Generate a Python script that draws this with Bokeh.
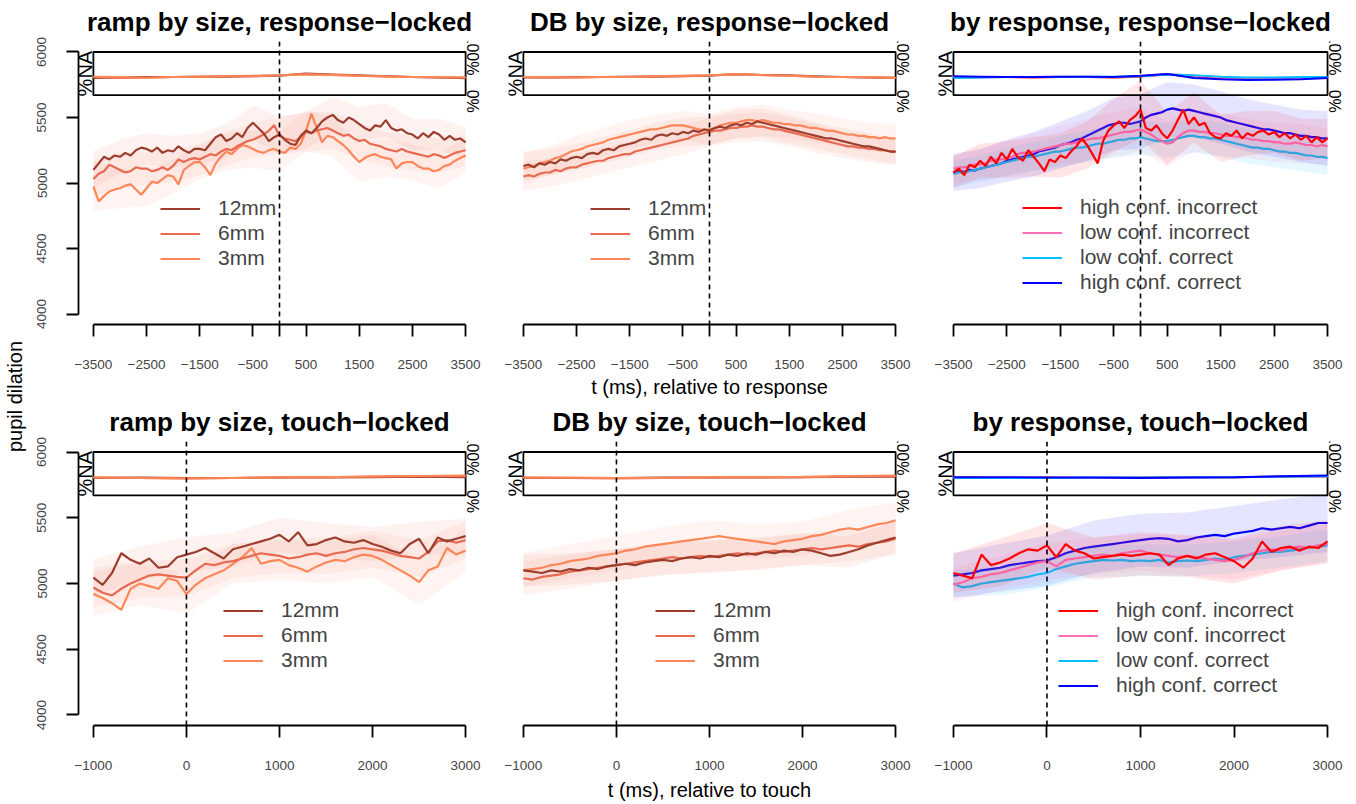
import math
from bokeh.plotting import figure
from bokeh.models import Range1d, FixedTicker, Span, Label, Legend, LegendItem
from bokeh.layouts import row, column
from bokeh.embed import file_html
from bokeh.resources import INLINE

FONT = "Liberation Sans"

# ---------------- time grids & ticks ----------------
t_resp = list(range(-3500, 3501, 100))
t_touch = list(range(-1000, 3001, 100))
t_resp_coarse = t_resp[::5]
t_touch_coarse = t_touch[::5]

resp_ticks = [-3500, -2500, -1500, -500, 0, 500, 1500, 2500, 3500]
resp_tick_labels = ["−3500", "−2500", "−1500", "−500", "", "500", "1500", "2500", "3500"]
touch_ticks = [-1000, 0, 1000, 2000, 3000]
touch_tick_labels = ["−1000", "0", "1000", "2000", "3000"]
y_ticks = [4000, 4500, 5000, 5500, 6000]
y_tick_labels = ["4000", "4500", "5000", "5500", "6000"]

size_names = ["12mm", "6mm", "3mm"]
size_colors = ["#9C3E2E", "#E8694F", "#FF8756"]
size_band_colors = ["#F08070", "#F88878", "#FF9080"]
resp_names = ["high conf. incorrect", "low conf. incorrect", "low conf. correct", "high conf. correct"]
resp_colors = ["#FF0000", "#FF6EB4", "#00BFFF", "#0000FF"]

# ---------------- ramp by size, response-locked ----------------
ramp_resp_12mm = [5100, 5150, 5200, 5180, 5210, 5200, 5230, 5210, 5250, 5270,
                  5260, 5240, 5270, 5230, 5250, 5240, 5280, 5250, 5230, 5260,
                  5260, 5250, 5300, 5350, 5370, 5320, 5340, 5380, 5350, 5420,
                  5460, 5420, 5380, 5320, 5350, 5370, 5330, 5300, 5290, 5360,
                  5400, 5380, 5420, 5470, 5500, 5520, 5480, 5460, 5500, 5480,
                  5450, 5420, 5400, 5440, 5430, 5480, 5420, 5400, 5410, 5380,
                  5370, 5340, 5380, 5350, 5390, 5370, 5330, 5360, 5330, 5340,
                  5310]
ramp_resp_6mm = [5030, 5070, 5090, 5140, 5120, 5100, 5080, 5090, 5120, 5110,
                 5110, 5090, 5100, 5120, 5100, 5130, 5180, 5160, 5180, 5190,
                 5180, 5200, 5220, 5210, 5240, 5260, 5250, 5280, 5300, 5320,
                 5330, 5350, 5370, 5400, 5440, 5360, 5340, 5330, 5320, 5350,
                 5390, 5380, 5400, 5410, 5420, 5400, 5380, 5360, 5370, 5340,
                 5320, 5330, 5300, 5290, 5280, 5260, 5250, 5240, 5260, 5240,
                 5230, 5220, 5210, 5200, 5220, 5210, 5190, 5210, 5230, 5240,
                 5250]
ramp_resp_3mm = [4975, 4860, 4900, 4935, 4950, 4960, 4980, 4990, 4950, 4910,
                 4960, 5010, 5000, 5030, 5060, 5050, 4990, 5100, 5130, 5160,
                 5160, 5120, 5060, 5150, 5200, 5240, 5220, 5260, 5290, 5280,
                 5260, 5240, 5230, 5250, 5260, 5240, 5230, 5270, 5260, 5300,
                 5400, 5530, 5420, 5310, 5360, 5350, 5320, 5290, 5250, 5200,
                 5160, 5190, 5210, 5220, 5200, 5190, 5180, 5110, 5150, 5160,
                 5160, 5130, 5110, 5110, 5090, 5100, 5130, 5140, 5170, 5190,
                 5210]
ramp_resp_12mm_hw = [140, 130, 120, 120, 120, 130, 130, 140, 140, 140, 130, 130, 120, 120, 120]
ramp_resp_6mm_hw = [140, 130, 130, 120, 120, 130, 130, 140, 150, 140, 140, 130, 130, 130, 120]
ramp_resp_3mm_hw = [190, 150, 140, 130, 130, 140, 140, 150, 160, 150, 150, 140, 140, 140, 130]
ramp_resp_12mm_na = [0.40, 0.41, 0.42, 0.42, 0.43, 0.43, 0.44, 0.45, 0.50, 0.48, 0.46, 0.44, 0.42, 0.41, 0.39]
ramp_resp_6mm_na = [0.42, 0.40, 0.41, 0.42, 0.43, 0.44, 0.45, 0.46, 0.49, 0.47, 0.45, 0.44, 0.42, 0.41, 0.41]
ramp_resp_3mm_na = [0.43, 0.42, 0.40, 0.42, 0.43, 0.44, 0.44, 0.46, 0.48, 0.47, 0.45, 0.43, 0.42, 0.42, 0.41]

# ---------------- DB by size, response-locked ----------------
db_resp_12mm = [5130, 5140, 5120, 5150, 5140, 5160, 5150, 5180, 5170, 5190,
                5200, 5190, 5220, 5230, 5220, 5250, 5260, 5250, 5280, 5290,
                5300, 5310, 5330, 5340, 5330, 5360, 5370, 5360, 5380, 5370,
                5390, 5380, 5400, 5390, 5410, 5400, 5420, 5430, 5420, 5440,
                5450, 5440, 5460, 5450, 5470, 5460, 5450, 5440, 5430, 5420,
                5410, 5400, 5390, 5380, 5370, 5360, 5350, 5340, 5340, 5330,
                5320, 5310, 5300, 5290, 5280, 5280, 5270, 5260, 5250, 5240,
                5240]
db_resp_6mm = [5050, 5060, 5050, 5070, 5080, 5080, 5100, 5090, 5110, 5120,
               5120, 5140, 5150, 5160, 5170, 5170, 5190, 5200, 5210, 5220,
               5220, 5240, 5250, 5260, 5270, 5280, 5290, 5300, 5310, 5320,
               5330, 5340, 5360, 5370, 5380, 5390, 5400, 5400, 5410, 5420,
               5420, 5430, 5430, 5440, 5430, 5430, 5420, 5410, 5410, 5400,
               5390, 5380, 5370, 5360, 5350, 5340, 5330, 5320, 5310, 5300,
               5290, 5280, 5280, 5270, 5270, 5260, 5260, 5250, 5250, 5240,
               5240]
db_resp_3mm = [5110, 5120, 5130, 5150, 5160, 5170, 5190, 5200, 5220, 5240,
               5250, 5260, 5280, 5290, 5300, 5310, 5330, 5340, 5350, 5360,
               5370, 5380, 5390, 5400, 5410, 5410, 5420, 5430, 5440, 5440,
               5440, 5430, 5420, 5410, 5400, 5410, 5420, 5440, 5450, 5460,
               5460, 5470, 5480, 5480, 5470, 5480, 5470, 5460, 5460, 5450,
               5450, 5440, 5440, 5430, 5420, 5420, 5410, 5400, 5400, 5390,
               5380, 5370, 5370, 5360, 5360, 5350, 5350, 5340, 5350, 5340,
               5340]
db_resp_12mm_hw = [110, 100, 100, 100, 100, 100, 110, 110, 110, 110, 110, 100, 100, 100, 100]
db_resp_6mm_hw = [110, 110, 100, 100, 100, 110, 110, 110, 110, 110, 110, 110, 100, 100, 100]
db_resp_3mm_hw = [120, 110, 110, 110, 110, 110, 110, 120, 120, 120, 110, 110, 110, 110, 110]
db_resp_12mm_na = [0.41, 0.41, 0.42, 0.42, 0.43, 0.43, 0.44, 0.45, 0.49, 0.47, 0.46, 0.44, 0.42, 0.41, 0.40]
db_resp_6mm_na = [0.42, 0.41, 0.41, 0.42, 0.43, 0.44, 0.45, 0.46, 0.48, 0.47, 0.45, 0.43, 0.42, 0.41, 0.41]
db_resp_3mm_na = [0.42, 0.42, 0.41, 0.42, 0.42, 0.44, 0.44, 0.46, 0.49, 0.46, 0.45, 0.43, 0.42, 0.42, 0.40]

# ---------------- by response, response-locked ----------------
resp_hi = [5080, 5110, 5060, 5140, 5120, 5170, 5130, 5200, 5150, 5230,
           5180, 5260, 5200, 5170, 5250, 5200, 5150, 5090, 5180, 5160,
           5210, 5190, 5240, 5280, 5340, 5290, 5220, 5150, 5320, 5400,
           5440, 5470, 5420, 5480, 5510, 5560, 5420, 5400, 5440, 5380,
           5340, 5400, 5480, 5560, 5450, 5500, 5440, 5460, 5380, 5350,
           5340, 5380, 5360, 5400, 5340, 5380, 5360, 5390, 5400, 5370,
           5390, 5350, 5380, 5340, 5370, 5330, 5360, 5310, 5350, 5310,
           5340]
resp_li = [5110, 5120, 5120, 5130, 5140, 5140, 5150, 5170, 5180, 5180,
           5190, 5200, 5220, 5230, 5230, 5240, 5250, 5260, 5270, 5280,
           5290, 5300, 5300, 5310, 5320, 5330, 5340, 5340, 5350, 5360,
           5370, 5380, 5390, 5390, 5400, 5410, 5390, 5370, 5340, 5320,
           5300, 5310, 5350, 5380, 5400, 5400, 5390, 5390, 5380, 5380,
           5370, 5360, 5360, 5350, 5350, 5340, 5330, 5330, 5320, 5320,
           5310, 5310, 5300, 5300, 5310, 5300, 5290, 5290, 5280, 5290,
           5280]
resp_lc = [5070, 5080, 5080, 5090, 5100, 5110, 5120, 5130, 5140, 5150,
           5160, 5170, 5180, 5190, 5200, 5200, 5210, 5220, 5230, 5240,
           5240, 5250, 5260, 5270, 5270, 5280, 5290, 5300, 5300, 5310,
           5320, 5330, 5330, 5340, 5340, 5350, 5340, 5330, 5320, 5320,
           5320, 5330, 5340, 5350, 5360, 5360, 5350, 5350, 5340, 5340,
           5330, 5320, 5310, 5300, 5290, 5280, 5270, 5270, 5260, 5260,
           5250, 5240, 5240, 5230, 5230, 5220, 5210, 5210, 5200, 5200,
           5190]
resp_hc = [5080, 5090, 5085, 5100, 5095, 5110, 5120, 5130, 5140, 5150,
           5170, 5180, 5190, 5200, 5210, 5220, 5240, 5250, 5260, 5270,
           5290, 5300, 5310, 5330, 5340, 5360, 5380, 5400, 5420, 5440,
           5450, 5460, 5460, 5450, 5460, 5470, 5500, 5520, 5530, 5540,
           5560, 5570, 5560, 5550, 5560, 5550, 5540, 5530, 5520, 5510,
           5500, 5480, 5470, 5460, 5450, 5440, 5430, 5420, 5410, 5410,
           5400, 5390, 5380, 5380, 5370, 5360, 5360, 5350, 5350, 5340,
           5340]
resp_hi_hw = [120, 130, 140, 150, 170, 180, 200, 220, 200, 190, 180, 170, 160, 160, 150]
resp_li_hw = [110, 120, 130, 140, 150, 160, 170, 170, 170, 160, 160, 150, 150, 150, 140]
resp_lc_hw = [100, 100, 110, 110, 120, 120, 130, 130, 130, 130, 130, 130, 130, 130, 130]
resp_hc_hw = [140, 150, 160, 170, 180, 190, 200, 210, 210, 200, 200, 200, 200, 200, 210]
resp_hi_na = [0.41, 0.42, 0.42, 0.41, 0.42, 0.42, 0.41, 0.43, 0.48, 0.44, 0.40, 0.38, 0.38, 0.39, 0.40]
resp_li_na = [0.42, 0.41, 0.42, 0.42, 0.43, 0.42, 0.42, 0.44, 0.49, 0.45, 0.41, 0.37, 0.38, 0.39, 0.41]
resp_lc_na = [0.40, 0.41, 0.42, 0.42, 0.42, 0.43, 0.43, 0.44, 0.48, 0.46, 0.43, 0.41, 0.41, 0.42, 0.42]
resp_hc_na = [0.44, 0.43, 0.42, 0.42, 0.43, 0.43, 0.42, 0.45, 0.49, 0.40, 0.37, 0.35, 0.36, 0.37, 0.40]

# ---------------- ramp by size, touch-locked ----------------
ramp_touch_12mm = [5045, 4990, 5080, 5230, 5180, 5150, 5190, 5120, 5130, 5200,
                   5220, 5240, 5270, 5230, 5190, 5260, 5280, 5300, 5320, 5340,
                   5370, 5320, 5390, 5290, 5300, 5330, 5350, 5320, 5310, 5330,
                   5300, 5280, 5250, 5230, 5300, 5340, 5230, 5350, 5320, 5340,
                   5360]
ramp_touch_6mm = [4970, 4930, 4910, 4960, 5000, 5030, 5060, 5070, 5060, 5050,
                  5045, 5100, 5150, 5140, 5160, 5170, 5190, 5210, 5230, 5220,
                  5210, 5190, 5200, 5220, 5230, 5210, 5230, 5240, 5260, 5270,
                  5260, 5250, 5230, 5210, 5200, 5190, 5240, 5320, 5330, 5310,
                  5330]
ramp_touch_3mm = [4920, 4890, 4850, 4800, 4960, 5000, 4980, 4960, 5040, 5020,
                  4920, 4990, 5040, 5070, 5100, 5150, 5200, 5270, 5150, 5170,
                  5180, 5140, 5120, 5090, 5130, 5160, 5180, 5170, 5200, 5220,
                  5210, 5180, 5140, 5100, 5060, 5010, 5100, 5130, 5270, 5220,
                  5250]
ramp_touch_12mm_hw = [140, 130, 130, 130, 130, 130, 130, 130, 130]
ramp_touch_6mm_hw = [150, 140, 140, 130, 130, 140, 140, 140, 140]
ramp_touch_3mm_hw = [170, 160, 150, 150, 150, 160, 160, 170, 160]
ramp_touch_12mm_na = [0.40, 0.41, 0.40, 0.40, 0.41, 0.41, 0.42, 0.43, 0.42]
ramp_touch_6mm_na = [0.41, 0.40, 0.39, 0.40, 0.41, 0.42, 0.43, 0.44, 0.44]
ramp_touch_3mm_na = [0.42, 0.40, 0.39, 0.40, 0.42, 0.42, 0.44, 0.45, 0.46]

# ---------------- DB by size, touch-locked ----------------
db_touch_12mm = [5100, 5090, 5080, 5100, 5090, 5110, 5100, 5120, 5110, 5130,
                 5140, 5150, 5140, 5160, 5170, 5180, 5170, 5190, 5200, 5190,
                 5210, 5200, 5220, 5210, 5230, 5220, 5240, 5230, 5250, 5240,
                 5260, 5250, 5230, 5210, 5220, 5240, 5260, 5290, 5310, 5330,
                 5350]
db_touch_6mm = [5040, 5030, 5050, 5060, 5070, 5090, 5100, 5110, 5120, 5130,
                5140, 5150, 5160, 5170, 5180, 5190, 5200, 5190, 5200, 5210,
                5200, 5210, 5220, 5230, 5220, 5230, 5240, 5250, 5240, 5250,
                5260, 5270, 5260, 5270, 5280, 5290, 5280, 5300, 5310, 5320,
                5340]
db_touch_3mm = [5100, 5110, 5120, 5140, 5150, 5170, 5180, 5190, 5210, 5220,
                5230, 5250, 5260, 5280, 5290, 5300, 5310, 5320, 5330, 5340,
                5350, 5360, 5350, 5340, 5330, 5320, 5310, 5300, 5320, 5330,
                5340, 5360, 5370, 5390, 5410, 5420, 5410, 5430, 5450, 5460,
                5480]
db_touch_12mm_hw = [120, 120, 120, 120, 120, 120, 120, 120, 120]
db_touch_6mm_hw = [130, 130, 120, 120, 120, 120, 120, 120, 120]
db_touch_3mm_hw = [130, 130, 130, 130, 130, 130, 130, 140, 140]
db_touch_12mm_na = [0.40, 0.40, 0.40, 0.41, 0.41, 0.41, 0.42, 0.43, 0.43]
db_touch_6mm_na = [0.41, 0.40, 0.39, 0.40, 0.41, 0.42, 0.42, 0.44, 0.44]
db_touch_3mm_na = [0.41, 0.41, 0.40, 0.40, 0.42, 0.42, 0.43, 0.45, 0.46]

# ---------------- by response, touch-locked ----------------
touch_hi = [5080, 5060, 5040, 5220, 5140, 5160, 5190, 5230, 5260, 5250,
            5290, 5200, 5300, 5250, 5230, 5190, 5200, 5210, 5220, 5210,
            5220, 5230, 5220, 5140, 5190, 5210, 5190, 5220, 5230, 5200,
            5170, 5120, 5190, 5320, 5240, 5270, 5280, 5250, 5280, 5270,
            5320]
touch_li = [4990, 5010, 5040, 5050, 5070, 5080, 5100, 5120, 5140, 5160,
            5170, 5130, 5180, 5190, 5200, 5210, 5220, 5210, 5230, 5240,
            5250, 5230, 5220, 5210, 5200, 5210, 5200, 5190, 5180, 5170,
            5180, 5200, 5230, 5250, 5260, 5250, 5270, 5280, 5270, 5290,
            5300]
touch_lc = [5000, 4970, 4980, 5000, 5010, 5020, 5030, 5040, 5050, 5070,
            5080, 5110, 5130, 5150, 5160, 5170, 5180, 5175, 5180, 5170,
            5175, 5170, 5180, 5160, 5170, 5175, 5170, 5180, 5190, 5180,
            5200, 5210, 5220, 5230, 5240, 5240, 5250, 5260, 5270, 5280,
            5290]
touch_hc = [5060, 5070, 5080, 5100, 5110, 5120, 5140, 5150, 5160, 5170,
            5175, 5200, 5230, 5250, 5270, 5280, 5290, 5300, 5310, 5320,
            5330, 5340, 5345, 5340, 5320, 5330, 5350, 5360, 5370, 5360,
            5380, 5390, 5400, 5420, 5410, 5420, 5430, 5420, 5440, 5460,
            5460]
touch_hi_hw = [150, 180, 170, 160, 160, 160, 170, 170, 160]
touch_li_hw = [130, 130, 140, 140, 150, 150, 150, 150, 150]
touch_lc_hw = [100, 110, 110, 120, 120, 120, 120, 120, 120]
touch_hc_hw = [170, 180, 190, 200, 200, 210, 210, 220, 220]
touch_hi_na = [0.41, 0.40, 0.41, 0.40, 0.41, 0.42, 0.42, 0.43, 0.44]
touch_li_na = [0.41, 0.41, 0.40, 0.40, 0.41, 0.41, 0.42, 0.43, 0.43]
touch_lc_na = [0.40, 0.40, 0.40, 0.41, 0.41, 0.42, 0.42, 0.43, 0.44]
touch_hc_na = [0.42, 0.42, 0.41, 0.41, 0.40, 0.41, 0.42, 0.44, 0.46]

# ---------------- geometry ----------------
Y_LO, Y_HI = 4000, 6000
INSET_LO = 5670
TICK_FONT = "13.5px"
UPWARD = math.pi / 2      # reads bottom-to-top
DOWNWARD = -math.pi / 2   # reads top-to-bottom


def build(width, height, borders, frame_h, t, t_c, xlim, ticks, tick_labels,
          show_y, title, names, colors, band_colors, means, hws, nas, draw_order,
          legend_loc, xlabel=None, xlabel_standoff=4):
    L, R, T, B = borders
    xpad = 0.04 * (xlim[1] - xlim[0])
    ypad = 0.04 * (Y_HI - Y_LO)
    x0, x1 = xlim[0] - xpad, xlim[1] + xpad
    y0, y1 = Y_LO - ypad, Y_HI + ypad
    uy = (y1 - y0) / frame_h
    p = figure(width=width, height=height, x_range=Range1d(x0, x1), y_range=Range1d(y0, y1),
               output_backend="svg", toolbar_location=None, title=title,
               min_border_left=L, min_border_right=R, min_border_top=T, min_border_bottom=B,
               y_axis_location="left" if show_y else None)
    p.grid.visible = False
    p.outline_line_color = None
    p.title.align = "center"
    p.title.text_font = FONT
    p.title.text_font_size = "26px"
    p.title.text_font_style = "bold"
    p.title.text_color = "black"
    p.title.standoff = 9
    na0 = (y0 - INSET_LO) / (Y_HI - INSET_LO)
    na1 = (y1 - INSET_LO) / (Y_HI - INSET_LO)
    p.extra_y_ranges = {"na": Range1d(na0, na1)}

    # x axis
    ax = p.xaxis[0]
    ax.ticker = FixedTicker(ticks=ticks)
    ax.major_label_overrides = {k: v for k, v in zip(ticks, tick_labels)}
    ax.bounds = (xlim[0], xlim[1])
    ax.major_tick_out = 12
    ax.major_tick_in = 0
    ax.minor_tick_line_color = None
    ax.axis_line_width = 1.8
    ax.major_tick_line_width = 1.8
    ax.major_label_text_font = FONT
    ax.major_label_text_font_size = TICK_FONT
    ax.major_label_standoff = 23
    if xlabel:
        ax.axis_label = xlabel
        ax.axis_label_text_font = FONT
        ax.axis_label_text_font_size = "20px"
        ax.axis_label_text_font_style = "normal"
        ax.axis_label_text_color = "black"
        ax.axis_label_standoff = xlabel_standoff
    if show_y:
        ay = p.yaxis[0]
        ay.ticker = FixedTicker(ticks=y_ticks)
        ay.major_label_overrides = {k: v for k, v in zip(y_ticks, y_tick_labels)}
        ay.bounds = (Y_LO, Y_HI)
        ay.major_tick_out = 12
        ay.major_tick_in = 0
        ay.minor_tick_line_color = None
        ay.axis_line_width = 1.8
        ay.major_tick_line_width = 1.8
        ay.major_label_text_font = FONT
        ay.major_label_text_font_size = TICK_FONT
        ay.major_label_orientation = "parallel"
        ay.major_label_standoff = 20

    # ribbons + lines
    renderers = {}
    for i in draw_order:
        m = means[i]
        mc = m[::5]
        lower = [a - h for a, h in zip(mc, hws[i])]
        upper = [a + h for a, h in zip(mc, hws[i])]
        p.varea(x=t_c, y1=lower, y2=upper, fill_color=band_colors[i], fill_alpha=0.1)
        renderers[i] = p.line(t, m, line_color=colors[i], line_width=2.2)

    # inset (lines drawn in legend order, last one on top)
    p.quad(left=[xlim[0]], right=[xlim[1]], bottom=[0], top=[1], y_range_name="na",
           fill_color=None, line_color="black", line_width=1.8)
    for i in range(len(names)):
        p.line(t_c, nas[i], y_range_name="na", line_color=colors[i], line_width=2)
    p.add_layout(Label(x=xlim[0], y=(INSET_LO + Y_HI) / 2, x_offset=-8, text="%NA",
                       angle=UPWARD, text_align="center", text_baseline="middle",
                       text_font=FONT, text_font_size="20px", text_color="black"))
    p.add_layout(Label(x=xlim[1], y=Y_HI - 3 * uy, x_offset=7, text="100%", angle=DOWNWARD,
                       text_align="center", text_baseline="middle",
                       text_font=FONT, text_font_size="16px", text_color="black"))
    p.add_layout(Label(x=xlim[1], y=INSET_LO - 6 * uy, x_offset=7, text="0%",
                       angle=DOWNWARD, text_align="center", text_baseline="middle",
                       text_font=FONT, text_font_size="16px", text_color="black"))

    legend = Legend(items=[LegendItem(label=names[i], renderers=[renderers[i]]) for i in range(len(names))],
                    location=legend_loc, orientation="vertical",
                    border_line_alpha=0, background_fill_alpha=0,
                    padding=0, margin=0, spacing=0,
                    glyph_width=40, glyph_height=25, label_height=25, label_standoff=18,
                    label_text_font=FONT, label_text_font_size="21px")
    p.add_layout(legend)

    p.add_layout(Span(location=0, dimension="height", line_color="black",
                      line_dash="5 4", line_width=1.6, level="overlay"))
    return p


size_order = [2, 1, 0]
resp_order = [3, 2, 1, 0]

TOP_H, BOT_H = 400, 404
TOP_B = (40, 76)
BOT_B = (40, 79)

p1 = build(464, TOP_H, (48, 14, TOP_B[0], TOP_B[1]), 284, t_resp, t_resp_coarse, (-3500, 3500),
           resp_ticks, resp_tick_labels, True, "ramp by size, response−locked",
           size_names, size_colors, size_band_colors,
           [ramp_resp_12mm, ramp_resp_6mm, ramp_resp_3mm],
           [ramp_resp_12mm_hw, ramp_resp_6mm_hw, ramp_resp_3mm_hw],
           [ramp_resp_12mm_na, ramp_resp_6mm_na, ramp_resp_3mm_na], size_order, (82, 53.5))
p2 = build(430, TOP_H, (14, 14, TOP_B[0], TOP_B[1]), 284, t_resp, t_resp_coarse, (-3500, 3500),
           resp_ticks, resp_tick_labels, False, "DB by size, response−locked",
           size_names, size_colors, size_band_colors,
           [db_resp_12mm, db_resp_6mm, db_resp_3mm],
           [db_resp_12mm_hw, db_resp_6mm_hw, db_resp_3mm_hw],
           [db_resp_12mm_na, db_resp_6mm_na, db_resp_3mm_na], size_order, (82, 53.5),
           xlabel="t (ms), relative to response", xlabel_standoff=4)
p3 = build(432, TOP_H, (14, 14, TOP_B[0], TOP_B[1]), 284, t_resp, t_resp_coarse, (-3500, 3500),
           resp_ticks, resp_tick_labels, False, "by response, response−locked",
           resp_names, resp_colors, resp_colors,
           [resp_hi, resp_li, resp_lc, resp_hc],
           [resp_hi_hw, resp_li_hw, resp_lc_hw, resp_hc_hw],
           [resp_hi_na, resp_li_na, resp_lc_na, resp_hc_na], resp_order, (84, 29.5))
p4 = build(464, BOT_H, (48, 14, BOT_B[0], BOT_B[1]), 285, t_touch, t_touch_coarse, (-1000, 3000),
           touch_ticks, touch_tick_labels, True, "ramp by size, touch−locked",
           size_names, size_colors, size_band_colors,
           [ramp_touch_12mm, ramp_touch_6mm, ramp_touch_3mm],
           [ramp_touch_12mm_hw, ramp_touch_6mm_hw, ramp_touch_3mm_hw],
           [ramp_touch_12mm_na, ramp_touch_6mm_na, ramp_touch_3mm_na], size_order, (145, 52.5))
p5 = build(430, BOT_H, (14, 14, BOT_B[0], BOT_B[1]), 285, t_touch, t_touch_coarse, (-1000, 3000),
           touch_ticks, touch_tick_labels, False, "DB by size, touch−locked",
           size_names, size_colors, size_band_colors,
           [db_touch_12mm, db_touch_6mm, db_touch_3mm],
           [db_touch_12mm_hw, db_touch_6mm_hw, db_touch_3mm_hw],
           [db_touch_12mm_na, db_touch_6mm_na, db_touch_3mm_na], size_order, (147, 52.5),
           xlabel="t (ms), relative to touch", xlabel_standoff=6)
p6 = build(432, BOT_H, (14, 14, BOT_B[0], BOT_B[1]), 285, t_touch, t_touch_coarse, (-1000, 3000),
           touch_ticks, touch_tick_labels, False, "by response, touch−locked",
           resp_names, resp_colors, resp_colors,
           [touch_hi, touch_li, touch_lc, touch_hc],
           [touch_hi_hw, touch_li_hw, touch_lc_hw, touch_hc_hw],
           [touch_hi_na, touch_li_na, touch_lc_na, touch_hc_na], resp_order, (120, 27.5))

# left strip carrying the shared y label as a left-side title
lab = figure(width=30, height=804, x_range=Range1d(0, 1), y_range=Range1d(0, 1),
             output_backend="svg", toolbar_location=None,
             title="pupil dilation", title_location="left",
             min_border_left=26, min_border_right=0, min_border_top=0, min_border_bottom=12,
             x_axis_location=None, y_axis_location=None)
lab.grid.visible = False
lab.outline_line_color = None
lab.title.align = "center"
lab.title.text_font = FONT
lab.title.text_font_size = "20px"
lab.title.text_font_style = "normal"
lab.title.text_color = "black"
lab.title.standoff = 2

layout = row(lab, column(row(p1, p2, p3), row(p4, p5, p6)))

with open("out.html", "w") as f:
    f.write(file_html(layout, INLINE))
